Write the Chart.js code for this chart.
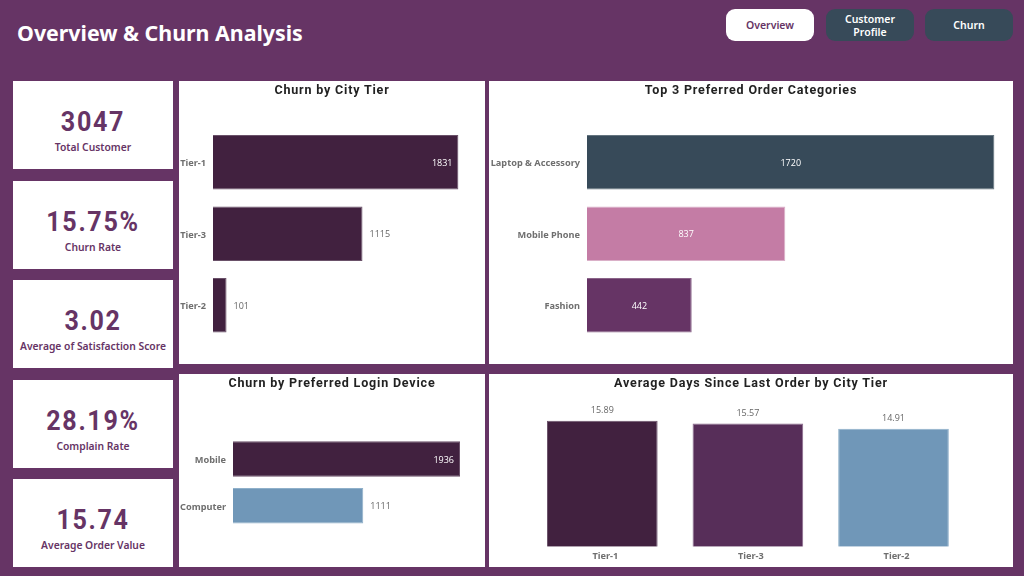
<!DOCTYPE html>
<html>
<head>
<meta charset="utf-8">
<title>Overview & Churn Analysis</title>
<script src="https://cdn.jsdelivr.net/npm/chart.js@4"></script>
<style>
    html, body { margin: 0; padding: 0; }
    body { width: 1024px; height: 576px; background: #663465; position: relative; overflow: hidden; font-family: "Noto Sans", sans-serif; }
    .abs { position: absolute; }
    #main-title { left: 17px; top: 17px; color: #fff; font: 700 21.35px/32px "Noto Sans", sans-serif; white-space: nowrap; }
    .nav { top: 9px; width: 88px; height: 32px; border-radius: 9px; background: #374a59; color: #fff; display: flex; align-items: center; justify-content: center; text-align: center; font: 600 10.5px/13px "Noto Sans", sans-serif; }
    .nav.two { padding-top: 1px; height: 31px; }
    .nav.active { background: #fff; color: #663465; }
    .card { left: 13px; width: 160px; height: 88px; background: #fff; color: #663465; text-align: center; }
    .card b { position: absolute; left: 0; right: 0; top: 23px; font: 700 28.5px/36px Roboto, sans-serif; letter-spacing: 1.9px; transform: scaleX(0.88); }
    .card span { position: absolute; left: 0; right: 0; top: 58px; font: 600 10.3px/16px "Noto Sans", sans-serif; white-space: nowrap; }
    .panel { background: #fff; }
    .panel h2 { position: absolute; left: 0; right: 0; top: 0; margin: 0; text-align: center; color: #222; font: 700 12.5px/17px Roboto, sans-serif; letter-spacing: 0.82px; z-index: 1; }
    .chart-box { position: absolute; left: 0; top: 0; width: 100%; height: 100%; }
</style>
</head>
<body>
<div id="main-title" class="abs">Overview &amp; Churn Analysis</div>
<div class="abs nav active" style="left:726px">Overview</div>
<div class="abs nav two" style="left:826px">Customer<br>Profile</div>
<div class="abs nav" style="left:925px">Churn</div>

<div id="cards"></div>

<div class="abs panel" style="left:179px;top:81px;width:306px;height:283px">
    <h2>Churn by City Tier</h2>
    <div class="chart-box"><canvas id="tierChart"></canvas></div>
</div>
<div class="abs panel" style="left:489px;top:81px;width:524px;height:283px">
    <h2>Top 3 Preferred Order Categories</h2>
    <div class="chart-box"><canvas id="categoryChart"></canvas></div>
</div>
<div class="abs panel" style="left:179px;top:374px;width:306px;height:193px">
    <h2>Churn by Preferred Login Device</h2>
    <div class="chart-box"><canvas id="deviceChart"></canvas></div>
</div>
<div class="abs panel" style="left:489px;top:374px;width:524px;height:193px">
    <h2>Average Days Since Last Order by City Tier</h2>
    <div class="chart-box"><canvas id="daysChart"></canvas></div>
</div>

<script>
// data
const kpiValues = ["3047", "15.75%", "3.02", "28.19%", "15.74"];
const kpiLabels = ["Total Customer", "Churn Rate", "Average of Satisfaction Score", "Complain Rate", "Average Order Value"];

const cityTiers = ["Tier-1", "Tier-3", "Tier-2"];
const churnByTier = [1831, 1115, 101];

const orderCategories = ["Laptop & Accessory", "Mobile Phone", "Fashion"];
const orderCounts = [1720, 837, 442];

const loginDevices = ["Mobile", "Computer"];
const churnByDevice = [1936, 1111];

const avgDaysSinceOrder = [15.89, 15.57, 14.91];

// colours
const DARK = "#41213f";
const PLUM = "#663465";
const DEEP = "#572e59";
const SLATE = "#374a59";
const PINK = "#c47ca5";
const BLUE = "#7097b8";

// lighter 1px edge the bars have in the picture
const EDGES = {
    [DARK]: "#6a5169",
    [PLUM]: "#8a6489",
    [DEEP]: "#8a6a8c",
    [SLATE]: "#64747f",
    [PINK]: "#dab0c8",
    [BLUE]: "#8fb0ca",
};

// KPI cards
const cardTops = [81, 181, 280, 380, 479];
const cardsEl = document.getElementById("cards");
kpiValues.forEach((value, i) => {
    const card = document.createElement("div");
    card.className = "abs card";
    card.style.top = cardTops[i] + "px";
    const big = document.createElement("b");
    big.textContent = value;
    const small = document.createElement("span");
    small.textContent = kpiLabels[i];
    card.append(big, small);
    cardsEl.appendChild(card);
});

// Chart.js has no data labels of its own, so draw them from the bar elements
const barLabels = {
    id: "barLabels",
    afterDatasetsDraw(chart, args, opts) {
        const ctx = chart.ctx;
        const meta = chart.getDatasetMeta(0);
        ctx.save();
        ctx.font = '400 9px "Open Sans", sans-serif';
        ctx.textBaseline = "middle";
        meta.data.forEach((bar, i) => {
            const value = chart.data.datasets[0].data[i];
            const text = opts.format ? opts.format(value) : String(value);
            const place = opts.place(i);
            ctx.fillStyle = place === "outside" || place === "above" ? "#666666" : "#ffffff";
            if (place === "end") {
                ctx.textAlign = "right";
                ctx.fillText(text, bar.x - 6, bar.y + 1);
            } else if (place === "outside") {
                ctx.textAlign = "left";
                ctx.fillText(text, bar.x + 7, bar.y + 1);
            } else if (place === "center") {
                ctx.textAlign = "center";
                ctx.fillText(text, (bar.x + bar.base) / 2, bar.y + 1);
            } else {
                ctx.textAlign = "center";
                ctx.fillText(text, bar.x, bar.y - 10);
            }
        });
        ctx.restore();
    },
};

const tickFont = { family: "'Noto Sans', sans-serif", size: 9.2, weight: "700" };

// horizontal bar chart, axis width and padding set the plot rectangle
const createHBar = (id, labels, data, colors, axisWidth, padding, place) => {
    return new Chart(document.getElementById(id).getContext("2d"), {
        type: "bar",
        data: {
            labels,
            datasets: [{
                data,
                backgroundColor: colors,
                borderColor: colors.map((c) => EDGES[c]),
                borderWidth: 1,
                categoryPercentage: 1,
                barPercentage: 0.76,
            }],
        },
        options: {
            indexAxis: "y",
            animation: false,
            responsive: true,
            maintainAspectRatio: false,
            layout: { padding },
            scales: {
                x: { display: false, min: 0, max: Math.max(...data) },
                y: {
                    grid: { display: false, drawTicks: false },
                    border: { display: false },
                    ticks: { color: "#6f6f6f", font: tickFont, padding: 7, labelOffset: 1.5 },
                    afterFit: (scale) => { scale.width = axisWidth; },
                },
            },
            plugins: {
                legend: { display: false },
                tooltip: { enabled: false },
                barLabels: { place },
            },
        },
        plugins: [barLabels],
    });
};

createHBar("tierChart", cityTiers, churnByTier, [DARK, DARK, DARK], 34,
    { top: 45.5, right: 26.5, bottom: 23, left: 0 },
    (i) => (i === 0 ? "end" : "outside"));

createHBar("categoryChart", orderCategories, orderCounts, [SLATE, PINK, PLUM], 98,
    { top: 45.5, right: 18.5, bottom: 23, left: 0 },
    () => "center");

createHBar("deviceChart", loginDevices, churnByDevice, [DARK, BLUE], 54,
    { top: 61.6, right: 25, bottom: 38, left: 0 },
    (i) => (i === 0 ? "end" : "outside"));

const daysColors = [DARK, DEEP, BLUE];
new Chart(document.getElementById("daysChart").getContext("2d"), {
    type: "bar",
    data: {
        labels: cityTiers,
        datasets: [{
            data: avgDaysSinceOrder,
            backgroundColor: daysColors,
            borderColor: daysColors.map((c) => EDGES[c]),
            borderWidth: 1,
            borderSkipped: "bottom",
            categoryPercentage: 1,
            barPercentage: 0.76,
        }],
    },
    options: {
        animation: false,
        responsive: true,
        maintainAspectRatio: false,
        layout: { padding: { top: 46, right: 46.7, bottom: 0, left: 40.5 } },
        scales: {
            x: {
                grid: { display: false, drawTicks: false },
                border: { display: false },
                ticks: { color: "#6f6f6f", font: tickFont, padding: 4, labelOffset: 3 },
                afterFit: (scale) => { scale.height = 20.3; },
            },
            y: { display: false, min: 0, max: 16 },
        },
        plugins: {
            legend: { display: false },
            tooltip: { enabled: false },
            barLabels: { place: () => "above", format: (v) => v.toFixed(2) },
        },
    },
    plugins: [barLabels],
});
</script>
</body>
</html>
